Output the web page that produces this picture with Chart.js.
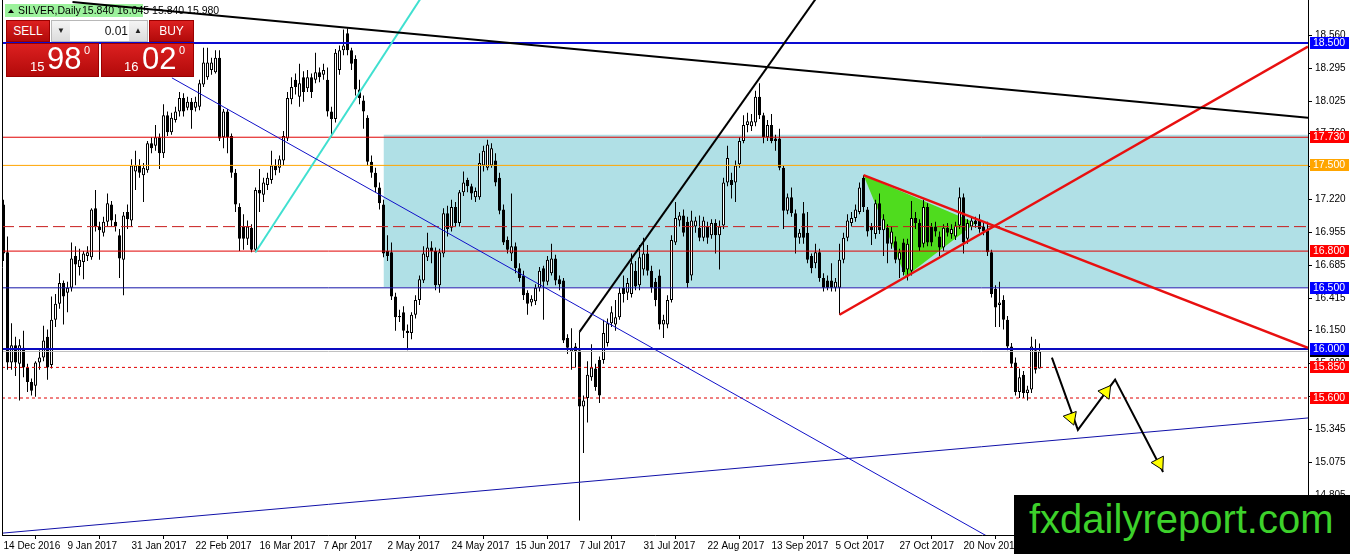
<!DOCTYPE html>
<html>
<head>
<meta charset="utf-8">
<script src="https://cdn.jsdelivr.net/npm/chart.js@4.4.0/dist/chart.umd.min.js"></script>
<style>
  html, body { margin: 0; padding: 0; background: #fff; }
  #wrap { position: relative; width: 1350px; height: 554px; overflow: hidden; font-family: "Liberation Sans", Arial, sans-serif; }
  canvas { display: block; }
  .red { position: absolute; background: linear-gradient(#dc2020, #b20a0a); border: 1px solid #9a0000; box-sizing: border-box; color: #fff; }
  .btn { top: 20px; height: 22px; font-size: 12px; line-height: 21px; text-align: center; }
  #sell { left: 6px; width: 44px; }
  #buy { left: 149px; width: 45px; }
  #spin { position: absolute; left: 51px; top: 20px; width: 97px; height: 22px; background: #fff; border: 1px solid #b8b8b8; box-sizing: border-box; }
  #spin .arr { position: absolute; top: 0; width: 18px; height: 20px; background: linear-gradient(#f4f4f4, #dcdcdc); font-size: 8px; line-height: 20px; text-align: center; color: #222; }
  #spin .lot { position: absolute; left: 20px; width: 56px; top: 0; font-size: 12px; line-height: 20px; text-align: right; color: #111; }
  .px { top: 43px; height: 34px; }
  #bid { left: 6px; width: 93px; }
  #ask { left: 101px; width: 93px; }
  .px span { position: absolute; line-height: 1; white-space: nowrap; }
  .sm { font-size: 13px; top: 16px; }
  .bg { font-size: 31px; top: -1px; }
  .sup { font-size: 11px; top: 1px; }
  #mark { position: absolute; left: 1014px; top: 495px; width: 336px; height: 59px; background: #000; }
  #mark span { position: absolute; left: 15px; top: 4px; font-size: 40px; line-height: 1; color: #3dd12b; white-space: nowrap; }
</style>
</head>
<body>
<div id="wrap">
  <canvas id="chart" width="1350" height="554"></canvas>
  <div id="sell" class="red btn">SELL</div>
  <div id="spin"><div class="arr" style="left:0">&#9660;</div><div class="lot">0.01</div><div class="arr" style="right:0">&#9650;</div></div>
  <div id="buy" class="red btn">BUY</div>
  <div id="bid" class="red px"><span class="sm" style="left:23px">15</span><span class="bg" style="left:40px">98</span><span class="sup" style="left:77px">0</span></div>
  <div id="ask" class="red px"><span class="sm" style="left:22px">16</span><span class="bg" style="left:40px">02</span><span class="sup" style="left:77px">0</span></div>
  <div id="mark"><span>fxdailyreport.com</span></div>
</div>
<script>
// visible window: bar index on x, price on y
const X_MIN = -0.375, X_MAX = 326.125;
const Y_MIN = 14.481, Y_MAX = 18.851;

const dateLabels = ['14 Dec 2016', '9 Jan 2017', '31 Jan 2017', '22 Feb 2017', '16 Mar 2017', '7 Apr 2017',
  '2 May 2017', '24 May 2017', '15 Jun 2017', '7 Jul 2017', '31 Jul 2017', '22 Aug 2017', '13 Sep 2017',
  '5 Oct 2017', '27 Oct 2017', '20 Nov 2017'];
const dateTickBars = [0, 16, 32, 48, 64, 80, 96, 112, 128, 144, 160, 176, 192, 208, 224, 240];
const priceTicks = [18.56, 18.295, 18.025, 17.76, 17.49, 17.22, 16.955, 16.685, 16.415, 16.15, 15.88, 15.61, 15.345, 15.075, 14.805];

// SILVER daily candles, 14 Dec 2016 .. mid Dec 2017
const opens = [
  17.18, 16.79, 15.89, 16.03, 15.88, 16.01, 15.85, 15.73, 15.70, 15.89,
  15.93, 16.10, 15.87, 16.24, 16.37, 16.54, 16.46, 16.50, 16.76, 16.67,
  16.71, 16.76, 16.75, 17.15, 17.00, 16.95, 17.04, 17.18, 17.04, 16.93,
  16.73, 17.12, 17.05, 17.45, 17.50, 17.42, 17.46, 17.68, 17.66, 17.73,
  17.60, 17.91, 17.77, 17.87, 17.94, 18.05, 17.97, 18.02, 17.97, 17.98,
  18.16, 18.22, 18.28, 18.26, 18.38, 17.73, 17.94, 17.74, 17.44, 17.16,
  17.00, 16.90, 16.99, 16.81, 17.30, 17.26, 17.34, 17.38, 17.50, 17.48,
  17.54, 17.72, 18.04, 18.20, 18.06, 18.22, 18.13, 18.22, 18.20, 18.26,
  18.24, 18.20, 17.94, 17.88, 18.28, 18.44, 18.58, 18.44, 18.37, 18.12,
  18.03, 17.89, 17.53, 17.44, 17.32, 17.18, 16.80, 16.79, 16.43, 16.27,
  16.30, 16.15, 16.13, 16.28, 16.40, 16.56, 16.75, 16.83, 16.80, 16.52,
  16.78, 17.11, 16.99, 17.16, 17.03, 17.28, 17.38, 17.33, 17.24, 17.24,
  17.50, 17.48, 17.50, 17.54, 17.40, 17.14, 16.89, 16.78, 16.84, 16.66,
  16.60, 16.46, 16.38, 16.39, 16.50, 16.66, 16.55, 16.62, 16.74, 16.57,
  16.56, 16.09, 15.98, 16.02, 15.99, 15.53, 15.60, 15.77, 15.84, 15.91,
  15.91, 16.05, 16.21, 16.20, 16.26, 16.50, 16.46, 16.45, 16.64, 16.52,
  16.65, 16.78, 16.64, 16.55, 16.60, 16.20, 16.20, 16.40, 16.87, 17.05,
  17.09, 17.04, 16.60, 17.00, 16.99, 16.91, 17.00, 16.93, 17.03, 16.93,
  17.01, 17.36, 17.38, 17.36, 17.51, 17.70, 17.83, 17.82, 17.85, 18.06,
  17.91, 17.73, 17.83, 17.72, 17.72, 17.48, 17.13, 17.24, 17.11, 16.91,
  17.11, 16.95, 16.76, 16.70, 16.79, 16.58, 16.56, 16.56, 16.50, 16.50,
  16.73, 16.91, 17.03, 17.07, 17.12, 17.40, 17.14, 17.00, 16.94, 17.19,
  16.97, 16.99, 16.86, 16.88, 16.73, 16.87, 16.65, 16.64, 17.07, 17.03,
  16.86, 17.16, 17.00, 17.00, 16.92, 16.83, 16.99, 16.94, 16.92, 17.01,
  17.24, 16.90, 17.00, 17.05, 17.05, 17.00, 16.97, 16.79, 16.49, 16.36,
  16.40, 16.24, 16.02, 15.89, 15.65, 15.79, 15.64, 15.67, 15.99, 15.84
];
const highs = [
  17.22, 16.92, 16.21, 16.10, 16.08, 16.15, 15.88, 15.76, 15.90, 15.99,
  16.19, 16.16, 16.43, 16.45, 16.62, 16.56, 16.55, 16.87, 16.84, 16.82,
  16.80, 16.84, 17.15, 17.30, 17.04, 17.08, 17.27, 17.21, 17.10, 16.98,
  17.12, 17.18, 17.55, 17.62, 17.55, 17.52, 17.70, 17.73, 17.83, 17.76,
  18.00, 17.94, 17.93, 17.98, 18.10, 18.09, 18.06, 18.05, 18.06, 18.20,
  18.46, 18.46, 18.38, 18.44, 18.44, 17.96, 17.96, 17.76, 17.47, 17.19,
  17.10, 17.05, 17.02, 17.32, 17.47, 17.40, 17.44, 17.62, 17.55, 17.58,
  17.78, 18.10, 18.22, 18.25, 18.33, 18.27, 18.28, 18.25, 18.42, 18.30,
  18.33, 18.30, 17.98, 18.45, 18.48, 18.61, 18.62, 18.46, 18.40, 18.20,
  18.07, 17.91, 17.58, 17.48, 17.36, 17.22, 16.93, 16.87, 16.46, 16.32,
  16.35, 16.20, 16.30, 16.44, 16.60, 16.84, 16.95, 16.88, 16.83, 16.82,
  17.15, 17.17, 17.22, 17.20, 17.30, 17.45, 17.40, 17.35, 17.32, 17.60,
  17.66, 17.71, 17.68, 17.60, 17.44, 17.18, 16.92, 17.27, 16.87, 16.70,
  16.64, 16.48, 16.44, 16.53, 16.67, 16.68, 16.76, 16.86, 16.77, 16.60,
  16.58, 16.12, 16.17, 16.05, 16.14, 15.62, 15.90, 16.04, 15.88, 15.94,
  16.24, 16.25, 16.35, 16.40, 16.50, 16.60, 16.58, 16.78, 16.72, 16.85,
  16.91, 16.85, 16.68, 16.58, 16.65, 16.28, 16.44, 16.93, 17.20, 17.12,
  17.14, 17.08, 17.13, 17.08, 17.09, 17.08, 17.04, 17.06, 17.06, 17.05,
  17.40, 17.66, 17.44, 17.54, 17.73, 17.91, 17.93, 17.92, 18.11, 18.17,
  17.93, 17.87, 17.92, 17.75, 17.80, 17.50, 17.27, 17.32, 17.14, 16.98,
  17.20, 17.12, 16.78, 16.86, 16.82, 16.62, 16.60, 16.70, 16.58, 16.86,
  16.95, 17.10, 17.12, 17.18, 17.36, 17.42, 17.16, 17.03, 17.22, 17.27,
  17.10, 17.02, 17.00, 16.92, 16.82, 16.90, 16.90, 17.21, 17.12, 17.06,
  17.22, 17.19, 17.03, 17.04, 16.96, 17.02, 17.03, 17.02, 17.04, 17.32,
  17.27, 17.06, 17.08, 17.08, 17.10, 17.03, 17.04, 16.81, 16.52, 16.55,
  16.44, 16.27, 16.05, 15.93, 15.84, 15.82, 15.70, 16.10, 16.08, 16.045
];
const lows = [
  16.72, 15.83, 15.83, 15.78, 15.58, 15.77, 15.65, 15.62, 15.61, 15.83,
  15.90, 15.75, 15.84, 16.18, 16.33, 16.20, 16.30, 16.47, 16.52, 16.60,
  16.57, 16.72, 16.73, 16.96, 16.73, 16.92, 17.00, 17.00, 16.96, 16.58,
  16.44, 16.98, 17.00, 17.30, 17.40, 17.20, 17.44, 17.60, 17.62, 17.47,
  17.56, 17.74, 17.75, 17.85, 17.90, 17.90, 17.95, 17.80, 17.94, 17.95,
  18.14, 18.20, 18.24, 18.25, 17.70, 17.64, 17.60, 17.40, 17.12, 16.80,
  16.81, 16.85, 16.79, 16.79, 17.12, 17.20, 17.30, 17.35, 17.42, 17.44,
  17.50, 17.70, 18.00, 18.08, 17.98, 18.02, 18.10, 18.05, 18.17, 18.18,
  18.20, 17.90, 17.73, 17.85, 18.24, 18.40, 18.40, 18.28, 18.07, 18.00,
  17.80, 17.50, 17.40, 17.28, 17.14, 16.75, 16.72, 16.40, 16.15, 16.22,
  16.09, 15.99, 16.08, 16.25, 16.36, 16.54, 16.72, 16.70, 16.48, 16.46,
  16.75, 16.92, 16.96, 17.00, 17.00, 17.25, 17.28, 17.22, 17.20, 17.22,
  17.45, 17.46, 17.48, 17.33, 17.10, 16.85, 16.78, 16.72, 16.62, 16.55,
  16.40, 16.28, 16.35, 16.36, 16.47, 16.24, 16.52, 16.60, 16.52, 16.48,
  16.05, 15.96, 15.83, 15.85, 14.60, 15.15, 15.40, 15.74, 15.66, 15.56,
  15.88, 16.02, 16.18, 16.15, 16.24, 16.38, 16.40, 16.42, 16.48, 16.48,
  16.60, 16.60, 16.46, 16.35, 16.16, 16.09, 16.17, 16.38, 16.85, 17.00,
  16.92, 16.50, 16.56, 16.95, 16.88, 16.88, 16.86, 16.90, 16.78, 16.65,
  16.98, 17.33, 17.23, 17.20, 17.48, 17.68, 17.77, 17.78, 17.82, 17.88,
  17.68, 17.70, 17.68, 17.62, 17.46, 16.98, 17.10, 17.08, 16.78, 16.86,
  16.86, 16.70, 16.62, 16.66, 16.55, 16.47, 16.48, 16.47, 16.47, 16.28,
  16.70, 16.88, 17.00, 17.04, 17.10, 17.12, 16.92, 16.85, 16.90, 16.94,
  16.76, 16.70, 16.82, 16.70, 16.58, 16.60, 16.56, 16.60, 16.98, 16.80,
  16.83, 16.84, 16.84, 16.92, 16.76, 16.80, 16.92, 16.90, 16.89, 16.98,
  16.78, 16.86, 16.97, 16.99, 16.95, 16.93, 16.76, 16.42, 16.18, 16.18,
  16.16, 15.99, 15.85, 15.62, 15.60, 15.60, 15.58, 15.64, 15.80, 15.84
];
const closes = [
  16.78, 15.89, 16.03, 15.89, 16.03, 15.85, 15.73, 15.66, 15.89, 15.93,
  16.07, 15.85, 16.24, 16.37, 16.54, 16.43, 16.50, 16.74, 16.69, 16.73,
  16.78, 16.79, 17.14, 17.00, 16.97, 17.04, 17.19, 17.05, 17.00, 16.74,
  17.09, 17.06, 17.50, 17.50, 17.44, 17.48, 17.68, 17.64, 17.73, 17.60,
  17.91, 17.77, 17.89, 17.94, 18.05, 17.94, 18.02, 17.95, 18.02, 18.17,
  18.34, 18.34, 18.34, 18.38, 17.72, 17.94, 17.73, 17.44, 17.18, 16.90,
  16.90, 17.00, 16.81, 17.30, 17.27, 17.36, 17.40, 17.50, 17.46, 17.55,
  17.74, 18.05, 18.14, 18.14, 18.17, 18.10, 18.22, 18.10, 18.26, 18.22,
  18.28, 17.94, 17.88, 18.42, 18.44, 18.48, 18.44, 18.33, 18.12, 18.05,
  17.94, 17.53, 17.44, 17.32, 17.19, 16.78, 16.76, 16.43, 16.26, 16.26,
  16.15, 16.13, 16.28, 16.40, 16.57, 16.78, 16.83, 16.80, 16.52, 16.79,
  17.11, 16.98, 17.16, 17.03, 17.28, 17.36, 17.33, 17.27, 17.29, 17.52,
  17.62, 17.67, 17.64, 17.36, 17.13, 16.87, 16.81, 16.84, 16.66, 16.58,
  16.44, 16.37, 16.41, 16.50, 16.64, 16.55, 16.73, 16.74, 16.56, 16.53,
  16.07, 16.01, 16.01, 15.98, 15.53, 15.58, 15.79, 15.85, 15.69, 15.62,
  16.13, 16.21, 16.30, 16.26, 16.46, 16.45, 16.54, 16.70, 16.51, 16.75,
  16.78, 16.64, 16.50, 16.40, 16.20, 16.24, 16.40, 16.89, 17.07, 17.09,
  16.95, 16.54, 17.05, 17.05, 16.91, 17.05, 16.91, 17.03, 16.93, 17.00,
  17.36, 17.56, 17.34, 17.50, 17.70, 17.83, 17.86, 17.86, 18.06, 17.91,
  17.73, 17.83, 17.70, 17.70, 17.48, 17.13, 17.24, 17.11, 16.91, 16.95,
  16.91, 16.73, 16.66, 16.79, 16.58, 16.50, 16.50, 16.50, 16.55, 16.73,
  16.91, 17.05, 17.07, 17.14, 17.32, 17.16, 16.96, 16.97, 17.19, 16.97,
  17.06, 16.86, 16.96, 16.73, 16.79, 16.63, 16.86, 17.07, 17.03, 16.83,
  17.16, 16.87, 16.87, 16.96, 16.83, 16.99, 16.95, 16.98, 17.01, 17.24,
  16.87, 17.03, 17.05, 17.02, 16.98, 16.96, 16.79, 16.45, 16.34, 16.38,
  16.24, 16.02, 15.88, 15.65, 15.77, 15.64, 15.67, 16.02, 15.83, 15.98
];

// drawn objects, as [bar index, price]
const levelPrices = [18.5, 17.73, 17.5, 17.0, 16.8, 16.5, 16.0, 15.98, 15.85, 15.6];
const zoneBars = [95, X_MAX];
const zonePrices = [17.75, 16.506];
const resistanceLine = [[17.25, 18.835], [X_MAX, 17.89]];
const fallingBlueLine = [[42.1, 18.215], [250, 14.396]];
const risingBlueLine = [[-0.375, 14.496], [X_MAX, 15.437]];
const cyanLine = [[63, 16.79], [106, 18.95]];
const julyLine = [[144, 16.14], [205, 18.95]];
const redRising = [[209, 16.28], [X_MAX, 18.47]];
const redFalling = [[215, 17.42], [X_MAX, 16.01]];
const triangle = [[215, 17.42], [243, 17.03], [225.5, 16.59], [215, 17.42]];
const zigzag = [[262.1, 15.93], [268.6, 15.34], [277.9, 15.75], [289.9, 14.995]];
const arrowHeads = [[266.9, 15.44], [275.6, 15.65], [288.9, 15.07]];

const pts = (arr) => arr.map(([x, y]) => ({ x, y }));
const lineSet = (arr, color, width, order, dash) => ({
    type: 'line', data: pts(arr), borderColor: color, borderWidth: width, borderDash: dash || [],
    pointRadius: 0, fill: false, tension: 0, order
});

const levelLook = [
    { color: '#0a0ad2', width: 2 },
    { color: '#e00000', width: 1 },
    { color: '#ffa500', width: 1 },
    { color: '#c81e1e', width: 1, dash: [12, 5] },
    { color: '#e00000', width: 1 },
    { color: '#1414a8', width: 1 },
    { color: '#0a0ac0', width: 2 },
    { color: '#c0c0c0', width: 1 },
    { color: '#e00000', width: 1, dash: [3, 3] },
    { color: '#e00000', width: 1, dash: [3, 3] }
];
const tagColors = { 18.5: '#0000ff', 17.73: '#ff0000', 17.5: '#ffa500', 16.8: '#ff0000', 16.5: '#0000ff', 15.98: '#000000', 16.0: '#0000ff', 15.85: '#ff0000', 15.6: '#ff0000' };
const tagOrder = [18.5, 17.73, 17.5, 16.8, 16.5, 15.98, 16.0, 15.85, 15.6];

const bars = opens.map((_, i) => i);
const isUp = (i) => closes[i] >= opens[i];

const datasets = [
    {
        type: 'line', order: 100,
        data: pts([[zoneBars[0], zonePrices[0]], [zoneBars[1], zonePrices[0]]]),
        borderColor: 'rgba(0,0,0,0)', pointRadius: 0,
        backgroundColor: '#b0e0e6', fill: { value: zonePrices[1] }
    },
    {
        type: 'line', order: 95, data: pts(triangle),
        borderColor: 'rgba(0,0,0,0)', pointRadius: 0, tension: 0,
        backgroundColor: '#4fdc1e', fill: 'shape'
    },
    {
        type: 'bar', order: 60, grouped: false, barPercentage: 1, maxBarThickness: 1,
        data: bars.map(i => ({ x: i, y: [lows[i], highs[i]] })),
        backgroundColor: '#000'
    },
    {
        type: 'bar', order: 55, grouped: false, barPercentage: 1, maxBarThickness: 3, minBarLength: 1,
        data: bars.map(i => ({ x: i, y: [opens[i], closes[i]] })),
        backgroundColor: (c) => isUp(c.dataIndex) ? '#fff' : '#000',
        borderColor: '#000', borderWidth: 1, borderSkipped: false
    },
    ...levelPrices.map((p, k) => lineSet([[X_MIN, p], [X_MAX, p]], levelLook[k].color, levelLook[k].width, 30, levelLook[k].dash)),
    lineSet(resistanceLine, '#000', 2, 20),
    lineSet(fallingBlueLine, '#1010c8', 1, 20),
    lineSet(risingBlueLine, '#1010a8', 1, 20),
    lineSet(cyanLine, '#40e0d0', 2, 20),
    lineSet(julyLine, '#000', 2, 20),
    lineSet(redRising, '#e81010', 2.5, 20),
    lineSet(redFalling, '#e81010', 2.5, 20),
    lineSet(zigzag, '#000', 2, 10),
    {
        type: 'line', order: 5, data: pts(arrowHeads), showLine: false,
        pointStyle: 'triangle', pointRadius: 8, pointBorderWidth: 1,
        pointBackgroundColor: '#ffff00', pointBorderColor: '#000',
        pointRotation: (c) => {
            const xs = c.chart.scales.x, ys = c.chart.scales.y;
            const a = zigzag[c.dataIndex], b = zigzag[c.dataIndex + 1];
            const dx = xs.getPixelForValue(b[0]) - xs.getPixelForValue(a[0]);
            const dy = ys.getPixelForValue(b[1]) - ys.getPixelForValue(a[1]);
            return Math.atan2(dx, -dy) * 180 / Math.PI;
        }
    }
];

const axisFont = { family: 'Liberation Sans', size: 10 };

// chart header, drawn under the lines
const headerPlugin = {
    id: 'header',
    beforeDatasetsDraw(chart) {
        const ctx = chart.ctx, n = closes.length - 1;
        ctx.save();
        ctx.fillStyle = '#9cf29c';
        ctx.fillRect(5, 4, 138, 13);
        ctx.fillStyle = '#000';
        ctx.beginPath();
        ctx.moveTo(8, 13); ctx.lineTo(14, 13); ctx.lineTo(11, 9); ctx.closePath(); ctx.fill();
        ctx.font = '10.5px "Liberation Sans"';
        ctx.textBaseline = 'middle';
        ctx.fillText('SILVER,Daily', 18, 11);
        ctx.fillText([opens[n], highs[n], lows[n], closes[n]].map(v => v.toFixed(3)).join(' '), 82, 11);
        ctx.restore();
    }
};

// left border of the plot
const framePlugin = {
    id: 'frame',
    afterDatasetsDraw(chart) {
        const { ctx, chartArea: a } = chart;
        ctx.save();
        ctx.strokeStyle = '#000';
        ctx.lineWidth = 1;
        ctx.beginPath();
        ctx.moveTo(a.left + 0.5, a.top);
        ctx.lineTo(a.left + 0.5, a.bottom);
        ctx.stroke();
        ctx.restore();
    }
};

// coloured price tags on the right axis
const tagPlugin = {
    id: 'tags',
    afterDraw(chart) {
        const { ctx, chartArea: a } = chart;
        const ys = chart.scales.y;
        ctx.save();
        ctx.font = '10.5px "Liberation Sans"';
        ctx.textBaseline = 'middle';
        tagOrder.forEach(p => {
            const y = Math.round(ys.getPixelForValue(p));
            ctx.fillStyle = tagColors[p];
            ctx.fillRect(a.right + 2, y - 6, 39, 12);
            ctx.fillStyle = '#fff';
            ctx.fillText(p.toFixed(3), a.right + 5, y + 0.5);
        });
        ctx.restore();
    }
};

new Chart(document.getElementById('chart'), {
    type: 'bar',
    data: { datasets },
    options: {
        responsive: false,
        animation: false,
        devicePixelRatio: 1,
        layout: { autoPadding: false, padding: { left: 2, top: 0, right: 0, bottom: 0 } },
        plugins: { legend: { display: false }, tooltip: { enabled: false } },
        scales: {
            x: {
                type: 'linear', min: X_MIN, max: X_MAX, offset: false, bounds: 'data',
                grid: { drawOnChartArea: false, tickLength: 4, color: '#000' },
                border: { display: true, color: '#000' },
                ticks: {
                    autoSkip: false, maxRotation: 0, align: 'start', padding: 1, color: '#000', font: axisFont,
                    callback: (v) => dateLabels[dateTickBars.indexOf(v)]
                },
                afterBuildTicks: (s) => { s.ticks = dateTickBars.map(v => ({ value: v })); },
                afterFit: (s) => { s.height = 19; s.paddingLeft = 0; s.paddingRight = 0; }
            },
            y: {
                type: 'linear', position: 'right', min: Y_MIN, max: Y_MAX, bounds: 'data',
                grid: { drawOnChartArea: false, tickLength: 4, color: '#000' },
                border: { display: true, color: '#000' },
                ticks: {
                    autoSkip: false, padding: 3, color: '#000', font: axisFont,
                    callback: (v) => v.toFixed(3)
                },
                afterBuildTicks: (s) => { s.ticks = priceTicks.map(v => ({ value: v })); },
                afterFit: (s) => { s.width = 42; s.paddingTop = 0; s.paddingBottom = 0; }
            }
        }
    },
    plugins: [headerPlugin, framePlugin, tagPlugin]
});
</script>
</body>
</html>
